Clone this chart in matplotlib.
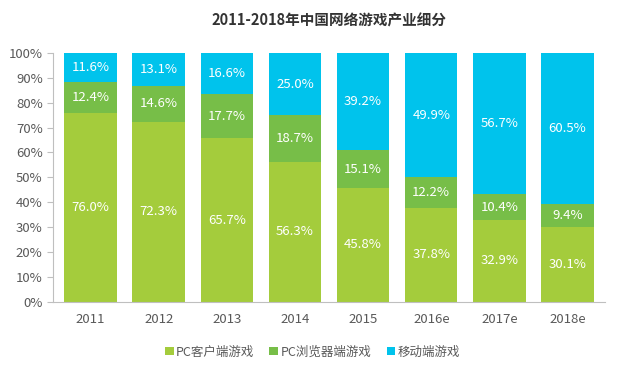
import numpy as np
import matplotlib.pyplot as plt
from matplotlib.ticker import PercentFormatter

plt.rcParams['font.family'] = ['Noto Sans CJK SC', 'DejaVu Sans']

years = ['2011', '2012', '2013', '2014', '2015', '2016e', '2017e', '2018e']
pc_client = [76.0, 72.3, 65.7, 56.3, 45.8, 37.8, 32.9, 30.1]
pc_browser = [12.4, 14.6, 17.7, 18.7, 15.1, 12.2, 10.4, 9.4]
mobile = [11.6, 13.1, 16.6, 25.0, 39.2, 49.9, 56.7, 60.5]
series_names = ['PC客户端游戏', 'PC浏览器端游戏', '移动端游戏']

colors = ['#A4CC3C', '#77BE48', '#00C3EC']
text_gray = '#595959'


def main():
    fig = plt.figure(figsize=(6.25, 3.65), dpi=100)
    ax = fig.add_axes([0.085, 0.173, 0.883, 0.682])

    x = np.arange(len(years))
    width = 0.77
    bottom = np.zeros(len(years))
    for vals, color, name in zip([pc_client, pc_browser, mobile], colors, series_names):
        vals = np.array(vals)
        ax.bar(x, vals, width, bottom=bottom, color=color, label=name, linewidth=0)
        for xi, b, v in zip(x, bottom, vals):
            ax.text(xi, b + v / 2, f'{v:.1f}%', ha='center', va='center',
                    color='white', fontsize=9.5)
        bottom += vals

    ax.set_xlim(-0.55, 7.55)
    ax.set_ylim(0, 100)
    ax.set_yticks(np.arange(0, 101, 10))
    ax.yaxis.set_major_formatter(PercentFormatter(decimals=0))
    ax.set_xticks(x)
    ax.set_xticklabels(years)
    ax.tick_params(axis='y', colors='#BFBFBF', labelcolor=text_gray, labelsize=9.5,
                   length=4, width=0.8)
    ax.tick_params(axis='x', length=0, labelcolor=text_gray, labelsize=9.5, pad=8)

    for side in ['top', 'right']:
        ax.spines[side].set_visible(False)
    for side in ['left', 'bottom']:
        ax.spines[side].set_color('#BFBFBF')
        ax.spines[side].set_linewidth(0.8)

    fig.suptitle('2011-2018年中国网络游戏产业细分', x=0.526, y=0.965, fontsize=10.5,
                 fontweight='bold', color='#333333')

    ax.legend(loc='upper center', bbox_to_anchor=(0.47, -0.13), ncol=3, frameon=False,
              fontsize=9, handlelength=0.7, handleheight=0.7, handletextpad=0.2,
              columnspacing=1.2, labelcolor=text_gray)

    fig.savefig('out.png', dpi=100)


if __name__ == "__main__":
    main()
